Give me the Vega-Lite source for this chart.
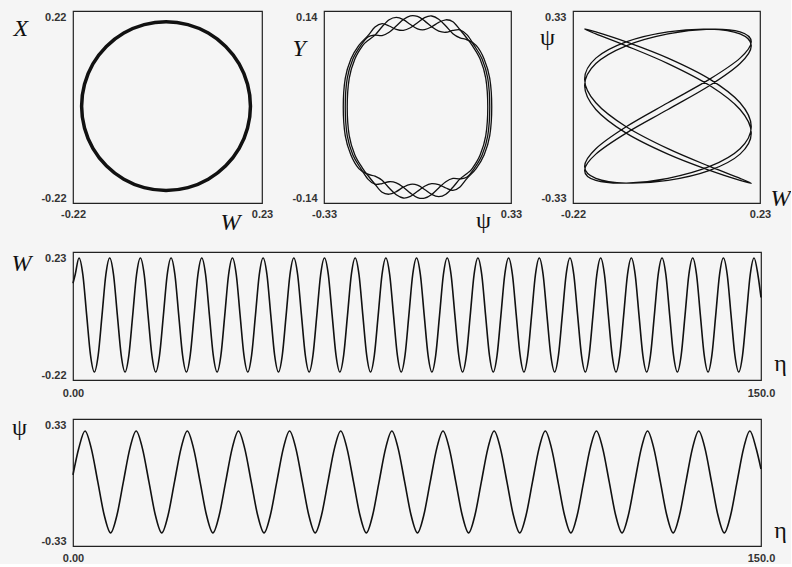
{
  "$schema": "https://vega.github.io/schema/vega-lite/v6.json",
  "background": "#f5f5f5",
  "padding": {"left": 10, "top": 10, "right": 0, "bottom": 0},
  "spacing": 15,
  "config": {
    "view": {"stroke": "#222", "strokeWidth": 1.2},
    "axis": {"grid": false, "ticks": false, "domain": false, "labelFont": "Liberation Sans", "labelFontSize": 11, "labelFontWeight": "bold", "labelColor": "#333", "titleFont": "Liberation Serif", "titleFontSize": 24, "titleFontWeight": "normal", "titleColor": "#111"}
  },
  "datasets": {
    "circ": [
      {"i":0,"w":0.2025,"x":0.002},{"i":1,"w":0.1956,"x":0.052},{"i":2,"w":0.1756,"x":0.0988},{"i":3,"w":0.1436,"x":0.1388},
      {"i":4,"w":0.102,"x":0.1696},{"i":5,"w":0.0535,"x":0.1889},{"i":6,"w":0.0015,"x":0.1955},{"i":7,"w":-0.0505,"x":0.1889},
      {"i":8,"w":-0.099,"x":0.1696},{"i":9,"w":-0.1406,"x":0.1388},{"i":10,"w":-0.1726,"x":0.0988},{"i":11,"w":-0.1926,"x":0.052},
      {"i":12,"w":-0.1995,"x":0.002},{"i":13,"w":-0.1926,"x":-0.048},{"i":14,"w":-0.1726,"x":-0.0948},{"i":15,"w":-0.1406,"x":-0.1348},
      {"i":16,"w":-0.099,"x":-0.1656},{"i":17,"w":-0.0505,"x":-0.1849},{"i":18,"w":0.0015,"x":-0.1915},{"i":19,"w":0.0535,"x":-0.1849},
      {"i":20,"w":0.102,"x":-0.1656},{"i":21,"w":0.1436,"x":-0.1348},{"i":22,"w":0.1756,"x":-0.0948},{"i":23,"w":0.1956,"x":-0.048}
    ],
    "yp": [
      {"m":0,"i":0,"p":0.207,"y":-0.0898},{"m":0,"i":1,"p":0.235,"y":-0.07},{"m":0,"i":2,"p":0.255,"y":-0.0418},{"m":0,"i":3,"p":0.262,"y":0},{"m":0,"i":4,"p":0.255,"y":0.0418},{"m":0,"i":5,"p":0.235,"y":0.07},{"m":0,"i":6,"p":0.207,"y":0.0898},
      {"m":0,"i":7,"p":0.175,"y":0.098},{"m":0,"i":8,"p":0.15,"y":0.1008},{"m":0,"i":9,"p":0.125,"y":0.1069},{"m":0,"i":10,"p":0.1,"y":0.1181},{"m":0,"i":11,"p":0.075,"y":0.1281},{"m":0,"i":12,"p":0.05,"y":0.1327},{"m":0,"i":13,"p":0.025,"y":0.1303},{"m":0,"i":14,"p":0,"y":0.123},
      {"m":0,"i":15,"p":-0.025,"y":0.1155},{"m":0,"i":16,"p":-0.05,"y":0.1117},{"m":0,"i":17,"p":-0.075,"y":0.1133},{"m":0,"i":18,"p":-0.1,"y":0.1181},{"m":0,"i":19,"p":-0.125,"y":0.1217},{"m":0,"i":20,"p":-0.15,"y":0.1166},{"m":0,"i":21,"p":-0.175,"y":0.104},
      {"m":0,"i":22,"p":-0.207,"y":0.0898},{"m":0,"i":23,"p":-0.235,"y":0.07},{"m":0,"i":24,"p":-0.255,"y":0.0418},{"m":0,"i":25,"p":-0.262,"y":0},{"m":0,"i":26,"p":-0.255,"y":-0.0418},{"m":0,"i":27,"p":-0.235,"y":-0.07},{"m":0,"i":28,"p":-0.207,"y":-0.0898},
      {"m":0,"i":29,"p":-0.175,"y":-0.098},{"m":0,"i":30,"p":-0.15,"y":-0.1008},{"m":0,"i":31,"p":-0.125,"y":-0.1069},{"m":0,"i":32,"p":-0.1,"y":-0.1181},{"m":0,"i":33,"p":-0.075,"y":-0.1281},{"m":0,"i":34,"p":-0.05,"y":-0.1327},{"m":0,"i":35,"p":-0.025,"y":-0.1303},{"m":0,"i":36,"p":0,"y":-0.123},
      {"m":0,"i":37,"p":0.025,"y":-0.1155},{"m":0,"i":38,"p":0.05,"y":-0.1117},{"m":0,"i":39,"p":0.075,"y":-0.1133},{"m":0,"i":40,"p":0.1,"y":-0.1181},{"m":0,"i":41,"p":0.125,"y":-0.1217},{"m":0,"i":42,"p":0.15,"y":-0.1166},{"m":0,"i":43,"p":0.175,"y":-0.104},
      {"m":1,"i":0,"p":0.2,"y":-0.0898},{"m":1,"i":1,"p":0.228,"y":-0.07},{"m":1,"i":2,"p":0.248,"y":-0.0418},{"m":1,"i":3,"p":0.255,"y":0},{"m":1,"i":4,"p":0.248,"y":0.0418},{"m":1,"i":5,"p":0.228,"y":0.07},{"m":1,"i":6,"p":0.2,"y":0.0898},
      {"m":1,"i":7,"p":0.175,"y":0.1051},{"m":1,"i":8,"p":0.15,"y":0.1126},{"m":1,"i":9,"p":0.125,"y":0.1116},{"m":1,"i":10,"p":0.1,"y":0.109},{"m":1,"i":11,"p":0.075,"y":0.1106},{"m":1,"i":12,"p":0.05,"y":0.1169},{"m":1,"i":13,"p":0.025,"y":0.1256},{"m":1,"i":14,"p":0,"y":0.1321},
      {"m":1,"i":15,"p":-0.025,"y":0.133},{"m":1,"i":16,"p":-0.05,"y":0.1275},{"m":1,"i":17,"p":-0.075,"y":0.118},{"m":1,"i":18,"p":-0.1,"y":0.109},{"m":1,"i":19,"p":-0.125,"y":0.1042},{"m":1,"i":20,"p":-0.15,"y":0.1048},{"m":1,"i":21,"p":-0.175,"y":0.1021},
      {"m":1,"i":22,"p":-0.2,"y":0.0898},{"m":1,"i":23,"p":-0.228,"y":0.07},{"m":1,"i":24,"p":-0.248,"y":0.0418},{"m":1,"i":25,"p":-0.255,"y":0},{"m":1,"i":26,"p":-0.248,"y":-0.0418},{"m":1,"i":27,"p":-0.228,"y":-0.07},{"m":1,"i":28,"p":-0.2,"y":-0.0898},
      {"m":1,"i":29,"p":-0.175,"y":-0.1051},{"m":1,"i":30,"p":-0.15,"y":-0.1126},{"m":1,"i":31,"p":-0.125,"y":-0.1116},{"m":1,"i":32,"p":-0.1,"y":-0.109},{"m":1,"i":33,"p":-0.075,"y":-0.1106},{"m":1,"i":34,"p":-0.05,"y":-0.1169},{"m":1,"i":35,"p":-0.025,"y":-0.1256},{"m":1,"i":36,"p":0,"y":-0.1321},
      {"m":1,"i":37,"p":0.025,"y":-0.133},{"m":1,"i":38,"p":0.05,"y":-0.1275},{"m":1,"i":39,"p":0.075,"y":-0.118},{"m":1,"i":40,"p":0.1,"y":-0.109},{"m":1,"i":41,"p":0.125,"y":-0.1042},{"m":1,"i":42,"p":0.15,"y":-0.1048},{"m":1,"i":43,"p":0.175,"y":-0.1021},
      {"m":2,"i":0,"p":0.193,"y":-0.0898},{"m":2,"i":1,"p":0.221,"y":-0.07},{"m":2,"i":2,"p":0.241,"y":-0.0418},{"m":2,"i":3,"p":0.248,"y":0},{"m":2,"i":4,"p":0.241,"y":0.0418},{"m":2,"i":5,"p":0.221,"y":0.07},{"m":2,"i":6,"p":0.193,"y":0.0898},
      {"m":2,"i":7,"p":0.175,"y":0.0999},{"m":2,"i":8,"p":0.15,"y":0.1126},{"m":2,"i":9,"p":0.125,"y":0.1244},{"m":2,"i":10,"p":0.1,"y":0.1272},{"m":2,"i":11,"p":0.075,"y":0.1234},{"m":2,"i":12,"p":0.05,"y":0.1169},{"m":2,"i":13,"p":0.025,"y":0.1128},{"m":2,"i":14,"p":0,"y":0.1139},
      {"m":2,"i":15,"p":-0.025,"y":0.1202},{"m":2,"i":16,"p":-0.05,"y":0.1275},{"m":2,"i":17,"p":-0.075,"y":0.1308},{"m":2,"i":18,"p":-0.1,"y":0.1272},{"m":2,"i":19,"p":-0.125,"y":0.117},{"m":2,"i":20,"p":-0.15,"y":0.1048},{"m":2,"i":21,"p":-0.175,"y":0.0969},
      {"m":2,"i":22,"p":-0.193,"y":0.0898},{"m":2,"i":23,"p":-0.221,"y":0.07},{"m":2,"i":24,"p":-0.241,"y":0.0418},{"m":2,"i":25,"p":-0.248,"y":0},{"m":2,"i":26,"p":-0.241,"y":-0.0418},{"m":2,"i":27,"p":-0.221,"y":-0.07},{"m":2,"i":28,"p":-0.193,"y":-0.0898},
      {"m":2,"i":29,"p":-0.175,"y":-0.0999},{"m":2,"i":30,"p":-0.15,"y":-0.1126},{"m":2,"i":31,"p":-0.125,"y":-0.1244},{"m":2,"i":32,"p":-0.1,"y":-0.1272},{"m":2,"i":33,"p":-0.075,"y":-0.1234},{"m":2,"i":34,"p":-0.05,"y":-0.1169},{"m":2,"i":35,"p":-0.025,"y":-0.1128},{"m":2,"i":36,"p":0,"y":-0.1139},
      {"m":2,"i":37,"p":0.025,"y":-0.1202},{"m":2,"i":38,"p":0.05,"y":-0.1275},{"m":2,"i":39,"p":0.075,"y":-0.1308},{"m":2,"i":40,"p":0.1,"y":-0.1272},{"m":2,"i":41,"p":0.125,"y":-0.117},{"m":2,"i":42,"p":0.15,"y":-0.1048},{"m":2,"i":43,"p":0.175,"y":-0.0969}
    ],
    "lis": [
      {"i":0,"w":-0.192,"p":0.2677},{"i":1,"w":-0.165,"p":0.2512},{"i":2,"w":-0.092,"p":0.2104},{"i":3,"w":0.0085,"p":0.1493},
      {"i":4,"w":0.109,"p":0.0738},{"i":5,"w":0.182,"p":-0.0086},{"i":6,"w":0.209,"p":-0.0898},{"i":7,"w":0.182,"p":-0.162},
      {"i":8,"w":0.109,"p":-0.218},{"i":9,"w":0.0085,"p":-0.2524},{"i":10,"w":-0.092,"p":-0.2617},{"i":11,"w":-0.165,"p":-0.2452},
      {"i":12,"w":-0.192,"p":-0.2044},{"i":13,"w":-0.165,"p":-0.1433},{"i":14,"w":-0.092,"p":-0.0678},{"i":15,"w":0.0085,"p":0.0146},
      {"i":16,"w":0.109,"p":0.0958},{"i":17,"w":0.182,"p":0.168},{"i":18,"w":0.209,"p":0.224},{"i":19,"w":0.182,"p":0.2584},
      {"i":20,"w":0.109,"p":0.2677},{"i":21,"w":0.0085,"p":0.2512},{"i":22,"w":-0.092,"p":0.2104},{"i":23,"w":-0.165,"p":0.1493},
      {"i":24,"w":-0.192,"p":0.0738},{"i":25,"w":-0.165,"p":-0.0086},{"i":26,"w":-0.092,"p":-0.0898},{"i":27,"w":0.0085,"p":-0.162},
      {"i":28,"w":0.109,"p":-0.218},{"i":29,"w":0.182,"p":-0.2524},{"i":30,"w":0.209,"p":-0.2617},{"i":31,"w":0.182,"p":-0.2452},
      {"i":32,"w":0.109,"p":-0.2044},{"i":33,"w":0.0085,"p":-0.1433},{"i":34,"w":-0.092,"p":-0.0678},{"i":35,"w":-0.165,"p":0.0146},
      {"i":36,"w":-0.192,"p":0.0958},{"i":37,"w":-0.165,"p":0.168},{"i":38,"w":-0.092,"p":0.224},{"i":39,"w":0.0085,"p":0.2584},
      {"i":40,"w":0.109,"p":0.2677},{"i":41,"w":0.182,"p":0.2512},{"i":42,"w":0.209,"p":0.2104},{"i":43,"w":0.182,"p":0.1493},
      {"i":44,"w":0.109,"p":0.0738},{"i":45,"w":0.0085,"p":-0.0086},{"i":46,"w":-0.092,"p":-0.0898},{"i":47,"w":-0.165,"p":-0.162},
      {"i":48,"w":-0.192,"p":-0.218},{"i":49,"w":-0.165,"p":-0.2524},{"i":50,"w":-0.092,"p":-0.2617},{"i":51,"w":0.0085,"p":-0.2452},
      {"i":52,"w":0.109,"p":-0.2044},{"i":53,"w":0.182,"p":-0.1433},{"i":54,"w":0.209,"p":-0.0678},{"i":55,"w":0.182,"p":0.0146},
      {"i":56,"w":0.109,"p":0.0958},{"i":57,"w":0.0085,"p":0.168},{"i":58,"w":-0.092,"p":0.224},{"i":59,"w":-0.165,"p":0.2584}
    ],
    "wt": [
      {"t":0,"w":0.12},{"t":0.47,"w":0.15},
      {"t":1.31,"w":0.209},{"t":2.15,"w":0.15},{"t":2.98,"w":0.008},{"t":3.82,"w":-0.133},{"t":4.66,"w":-0.192},{"t":5.49,"w":-0.133},{"t":6.33,"w":0.008},{"t":7.16,"w":0.15},
      {"t":8.0,"w":0.209},{"t":8.84,"w":0.15},{"t":9.67,"w":0.008},{"t":10.51,"w":-0.133},{"t":11.35,"w":-0.192},{"t":12.18,"w":-0.133},{"t":13.02,"w":0.008},{"t":13.85,"w":0.15},
      {"t":14.69,"w":0.209},{"t":15.53,"w":0.15},{"t":16.36,"w":0.008},{"t":17.2,"w":-0.133},{"t":18.04,"w":-0.192},{"t":18.87,"w":-0.133},{"t":19.71,"w":0.008},{"t":20.54,"w":0.15},
      {"t":21.38,"w":0.209},{"t":22.22,"w":0.15},{"t":23.05,"w":0.008},{"t":23.89,"w":-0.133},{"t":24.73,"w":-0.192},{"t":25.56,"w":-0.133},{"t":26.4,"w":0.008},{"t":27.23,"w":0.15},
      {"t":28.07,"w":0.209},{"t":28.91,"w":0.15},{"t":29.74,"w":0.008},{"t":30.58,"w":-0.133},{"t":31.42,"w":-0.192},{"t":32.25,"w":-0.133},{"t":33.09,"w":0.008},{"t":33.92,"w":0.15},
      {"t":34.76,"w":0.209},{"t":35.6,"w":0.15},{"t":36.43,"w":0.008},{"t":37.27,"w":-0.133},{"t":38.11,"w":-0.192},{"t":38.94,"w":-0.133},{"t":39.78,"w":0.008},{"t":40.61,"w":0.15},
      {"t":41.45,"w":0.209},{"t":42.29,"w":0.15},{"t":43.12,"w":0.008},{"t":43.96,"w":-0.133},{"t":44.8,"w":-0.192},{"t":45.63,"w":-0.133},{"t":46.47,"w":0.008},{"t":47.3,"w":0.15},
      {"t":48.14,"w":0.209},{"t":48.98,"w":0.15},{"t":49.81,"w":0.008},{"t":50.65,"w":-0.133},{"t":51.49,"w":-0.192},{"t":52.32,"w":-0.133},{"t":53.16,"w":0.008},{"t":53.99,"w":0.15},
      {"t":54.83,"w":0.209},{"t":55.67,"w":0.15},{"t":56.5,"w":0.008},{"t":57.34,"w":-0.133},{"t":58.18,"w":-0.192},{"t":59.01,"w":-0.133},{"t":59.85,"w":0.008},{"t":60.68,"w":0.15},
      {"t":61.52,"w":0.209},{"t":62.36,"w":0.15},{"t":63.19,"w":0.008},{"t":64.03,"w":-0.133},{"t":64.87,"w":-0.192},{"t":65.7,"w":-0.133},{"t":66.54,"w":0.008},{"t":67.37,"w":0.15},
      {"t":68.21,"w":0.209},{"t":69.05,"w":0.15},{"t":69.88,"w":0.008},{"t":70.72,"w":-0.133},{"t":71.56,"w":-0.192},{"t":72.39,"w":-0.133},{"t":73.23,"w":0.008},{"t":74.06,"w":0.15},
      {"t":74.9,"w":0.209},{"t":75.74,"w":0.15},{"t":76.57,"w":0.008},{"t":77.41,"w":-0.133},{"t":78.25,"w":-0.192},{"t":79.08,"w":-0.133},{"t":79.92,"w":0.008},{"t":80.75,"w":0.15},
      {"t":81.59,"w":0.209},{"t":82.43,"w":0.15},{"t":83.26,"w":0.008},{"t":84.1,"w":-0.133},{"t":84.94,"w":-0.192},{"t":85.77,"w":-0.133},{"t":86.61,"w":0.008},{"t":87.44,"w":0.15},
      {"t":88.28,"w":0.209},{"t":89.12,"w":0.15},{"t":89.95,"w":0.008},{"t":90.79,"w":-0.133},{"t":91.63,"w":-0.192},{"t":92.46,"w":-0.133},{"t":93.3,"w":0.008},{"t":94.13,"w":0.15},
      {"t":94.97,"w":0.209},{"t":95.81,"w":0.15},{"t":96.64,"w":0.008},{"t":97.48,"w":-0.133},{"t":98.32,"w":-0.192},{"t":99.15,"w":-0.133},{"t":99.99,"w":0.008},{"t":100.82,"w":0.15},
      {"t":101.66,"w":0.209},{"t":102.5,"w":0.15},{"t":103.33,"w":0.008},{"t":104.17,"w":-0.133},{"t":105.01,"w":-0.192},{"t":105.84,"w":-0.133},{"t":106.68,"w":0.008},{"t":107.51,"w":0.15},
      {"t":108.35,"w":0.209},{"t":109.19,"w":0.15},{"t":110.02,"w":0.008},{"t":110.86,"w":-0.133},{"t":111.7,"w":-0.192},{"t":112.53,"w":-0.133},{"t":113.37,"w":0.008},{"t":114.2,"w":0.15},
      {"t":115.04,"w":0.209},{"t":115.88,"w":0.15},{"t":116.71,"w":0.008},{"t":117.55,"w":-0.133},{"t":118.39,"w":-0.192},{"t":119.22,"w":-0.133},{"t":120.06,"w":0.008},{"t":120.89,"w":0.15},
      {"t":121.73,"w":0.209},{"t":122.57,"w":0.15},{"t":123.4,"w":0.008},{"t":124.24,"w":-0.133},{"t":125.08,"w":-0.192},{"t":125.91,"w":-0.133},{"t":126.75,"w":0.008},{"t":127.58,"w":0.15},
      {"t":128.42,"w":0.209},{"t":129.26,"w":0.15},{"t":130.09,"w":0.008},{"t":130.93,"w":-0.133},{"t":131.77,"w":-0.192},{"t":132.6,"w":-0.133},{"t":133.44,"w":0.008},{"t":134.27,"w":0.15},
      {"t":135.11,"w":0.209},{"t":135.95,"w":0.15},{"t":136.78,"w":0.008},{"t":137.62,"w":-0.133},{"t":138.46,"w":-0.192},{"t":139.29,"w":-0.133},{"t":140.13,"w":0.008},{"t":140.96,"w":0.15},
      {"t":141.8,"w":0.209},{"t":142.64,"w":0.15},{"t":143.47,"w":0.008},{"t":144.31,"w":-0.133},{"t":145.15,"w":-0.192},{"t":145.98,"w":-0.133},{"t":146.82,"w":0.008},{"t":147.65,"w":0.15},
      {"t":148.49,"w":0.209},{"t":149.33,"w":0.15},{"t":150,"w":0.07}
    ],
    "pt": [
      {"t":0,"p":0.04},{"t":1.23,"p":0.175},
      {"t":2.62,"p":0.268},{"t":4.01,"p":0.175},{"t":5.41,"p":0.003},{"t":6.8,"p":-0.169},{"t":8.2,"p":-0.262},{"t":9.59,"p":-0.169},{"t":10.98,"p":0.003},{"t":12.38,"p":0.175},
      {"t":13.77,"p":0.268},{"t":15.16,"p":0.175},{"t":16.56,"p":0.003},{"t":17.95,"p":-0.169},{"t":19.35,"p":-0.262},{"t":20.74,"p":-0.169},{"t":22.13,"p":0.003},{"t":23.53,"p":0.175},
      {"t":24.92,"p":0.268},{"t":26.31,"p":0.175},{"t":27.71,"p":0.003},{"t":29.1,"p":-0.169},{"t":30.5,"p":-0.262},{"t":31.89,"p":-0.169},{"t":33.28,"p":0.003},{"t":34.68,"p":0.175},
      {"t":36.07,"p":0.268},{"t":37.46,"p":0.175},{"t":38.86,"p":0.003},{"t":40.25,"p":-0.169},{"t":41.65,"p":-0.262},{"t":43.04,"p":-0.169},{"t":44.43,"p":0.003},{"t":45.83,"p":0.175},
      {"t":47.22,"p":0.268},{"t":48.61,"p":0.175},{"t":50.01,"p":0.003},{"t":51.4,"p":-0.169},{"t":52.8,"p":-0.262},{"t":54.19,"p":-0.169},{"t":55.58,"p":0.003},{"t":56.98,"p":0.175},
      {"t":58.37,"p":0.268},{"t":59.76,"p":0.175},{"t":61.16,"p":0.003},{"t":62.55,"p":-0.169},{"t":63.95,"p":-0.262},{"t":65.34,"p":-0.169},{"t":66.73,"p":0.003},{"t":68.13,"p":0.175},
      {"t":69.52,"p":0.268},{"t":70.91,"p":0.175},{"t":72.31,"p":0.003},{"t":73.7,"p":-0.169},{"t":75.1,"p":-0.262},{"t":76.49,"p":-0.169},{"t":77.88,"p":0.003},{"t":79.28,"p":0.175},
      {"t":80.67,"p":0.268},{"t":82.06,"p":0.175},{"t":83.46,"p":0.003},{"t":84.85,"p":-0.169},{"t":86.25,"p":-0.262},{"t":87.64,"p":-0.169},{"t":89.03,"p":0.003},{"t":90.43,"p":0.175},
      {"t":91.82,"p":0.268},{"t":93.21,"p":0.175},{"t":94.61,"p":0.003},{"t":96.0,"p":-0.169},{"t":97.4,"p":-0.262},{"t":98.79,"p":-0.169},{"t":100.18,"p":0.003},{"t":101.58,"p":0.175},
      {"t":102.97,"p":0.268},{"t":104.36,"p":0.175},{"t":105.76,"p":0.003},{"t":107.15,"p":-0.169},{"t":108.55,"p":-0.262},{"t":109.94,"p":-0.169},{"t":111.33,"p":0.003},{"t":112.73,"p":0.175},
      {"t":114.12,"p":0.268},{"t":115.51,"p":0.175},{"t":116.91,"p":0.003},{"t":118.3,"p":-0.169},{"t":119.7,"p":-0.262},{"t":121.09,"p":-0.169},{"t":122.48,"p":0.003},{"t":123.88,"p":0.175},
      {"t":125.27,"p":0.268},{"t":126.66,"p":0.175},{"t":128.06,"p":0.003},{"t":129.45,"p":-0.169},{"t":130.85,"p":-0.262},{"t":132.24,"p":-0.169},{"t":133.63,"p":0.003},{"t":135.03,"p":0.175},
      {"t":136.42,"p":0.268},{"t":137.81,"p":0.175},{"t":139.21,"p":0.003},{"t":140.6,"p":-0.169},{"t":142.0,"p":-0.262},{"t":143.39,"p":-0.169},{"t":144.78,"p":0.003},{"t":146.18,"p":0.175},
      {"t":147.57,"p":0.268},{"t":148.96,"p":0.175},{"t":150,"p":0.07}
    ]
  },
  "vconcat": [
    {
      "bounds": "flush",
      "spacing": 62,
      "hconcat": [
        {
          "width": 189, "height": 192,
          "data": {"name": "circ"},
          "mark": {"type": "line", "interpolate": "cardinal-closed", "strokeWidth": 3.5, "color": "#111"},
          "encoding": {
            "x": {"field": "w", "type": "quantitative", "scale": {"domain": [-0.22, 0.23], "nice": false, "zero": false},
              "axis": {"values": [-0.22, 0.23], "format": ".2f", "labelExpr": "replace(datum.label, '\u2212', '-')", "labelFlush": false, "labelPadding": 5, "title": "W", "titleFontStyle": "italic", "titleX": 157, "titleY": 26, "titleAlign": "center", "titleBaseline": "alphabetic", "titleAngle": 0}},
            "y": {"field": "x", "type": "quantitative", "scale": {"domain": [-0.22, 0.22], "nice": false, "zero": false},
              "axis": {"values": [-0.22, 0.22], "format": ".2f", "labelExpr": "replace(datum.label, '\u2212', '-')", "labelFlush": true, "labelPadding": 7, "title": "X", "titleFontStyle": "italic", "titleAngle": 0, "titleX": -60, "titleY": 24, "titleAlign": "left", "titleBaseline": "alphabetic"}},
            "order": {"field": "i", "type": "quantitative"}
          }
        },
        {
          "width": 187, "height": 192,
          "data": {"name": "yp"},
          "mark": {"type": "line", "interpolate": "cardinal-closed", "strokeWidth": 1.3, "color": "#111"},
          "encoding": {
            "x": {"field": "p", "type": "quantitative", "scale": {"domain": [-0.33, 0.33], "nice": false, "zero": false},
              "axis": {"values": [-0.33, 0.33], "format": ".2f", "labelExpr": "replace(datum.label, '\u2212', '-')", "labelFlush": false, "labelPadding": 5, "title": "ψ", "titleX": 159, "titleY": 24, "titleAlign": "center", "titleBaseline": "alphabetic", "titleAngle": 0}},
            "y": {"field": "y", "type": "quantitative", "scale": {"domain": [-0.14, 0.14], "nice": false, "zero": false},
              "axis": {"values": [-0.14, 0.14], "format": ".2f", "labelExpr": "replace(datum.label, '\u2212', '-')", "labelFlush": true, "labelPadding": 7, "title": "Y", "titleFontStyle": "italic", "titleAngle": 0, "titleX": -32, "titleY": 44, "titleAlign": "left", "titleBaseline": "alphabetic"}},
            "detail": {"field": "m", "type": "nominal"},
            "order": {"field": "i", "type": "quantitative"}
          }
        },
        {
          "width": 187, "height": 192,
          "data": {"name": "lis"},
          "mark": {"type": "line", "interpolate": "cardinal-closed", "strokeWidth": 1.3, "color": "#111"},
          "encoding": {
            "x": {"field": "w", "type": "quantitative", "scale": {"domain": [-0.22, 0.23], "nice": false, "zero": false},
              "axis": {"values": [-0.22, 0.23], "format": ".2f", "labelExpr": "replace(datum.label, '\u2212', '-')", "labelFlush": false, "labelPadding": 5, "title": "W", "titleFontStyle": "italic", "titleX": 207, "titleY": 2, "titleAlign": "center", "titleBaseline": "alphabetic", "titleAngle": 0}},
            "y": {"field": "p", "type": "quantitative", "scale": {"domain": [-0.33, 0.33], "nice": false, "zero": false},
              "axis": {"values": [-0.33, 0.33], "format": ".2f", "labelExpr": "replace(datum.label, '\u2212', '-')", "labelFlush": true, "labelPadding": 7, "title": "ψ", "titleAngle": 0, "titleX": -26, "titleY": 33, "titleAlign": "center", "titleBaseline": "alphabetic"}},
            "order": {"field": "i", "type": "quantitative"}
          }
        }
      ]
    },
    {
      "width": 688, "height": 128,
      "data": {"name": "wt"},
      "mark": {"type": "line", "interpolate": "monotone", "strokeWidth": 1.6, "color": "#111"},
      "encoding": {
        "x": {"field": "t", "type": "quantitative", "scale": {"domain": [0, 150], "nice": false, "zero": false},
          "axis": {"values": [0, 150], "labelExpr": "datum.value == 0 ? '0.00' : '150.0'", "labelFlush": false, "labelPadding": 7, "title": "η", "titleX": 707, "titleY": -10, "titleAlign": "center", "titleBaseline": "alphabetic", "titleAngle": 0}},
        "y": {"field": "w", "type": "quantitative", "scale": {"domain": [-0.22, 0.23], "nice": false, "zero": false},
          "axis": {"values": [-0.22, 0.23], "format": ".2f", "labelExpr": "replace(datum.label, '\u2212', '-')", "labelFlush": true, "labelPadding": 7, "title": "W", "titleFontStyle": "italic", "titleAngle": 0, "titleX": -62, "titleY": 18, "titleAlign": "left", "titleBaseline": "alphabetic"}}
      }
    },
    {
      "width": 688, "height": 127,
      "data": {"name": "pt"},
      "mark": {"type": "line", "interpolate": "monotone", "strokeWidth": 1.6, "color": "#111"},
      "encoding": {
        "x": {"field": "t", "type": "quantitative", "scale": {"domain": [0, 150], "nice": false, "zero": false},
          "axis": {"values": [0, 150], "labelExpr": "datum.value == 0 ? '0.00' : '150.0'", "labelFlush": false, "labelPadding": 6, "title": "η", "titleX": 707, "titleY": -9, "titleAlign": "center", "titleBaseline": "alphabetic", "titleAngle": 0}},
        "y": {"field": "p", "type": "quantitative", "scale": {"domain": [-0.33, 0.33], "nice": false, "zero": false},
          "axis": {"values": [-0.33, 0.33], "format": ".2f", "labelExpr": "replace(datum.label, '\u2212', '-')", "labelFlush": true, "labelPadding": 7, "title": "ψ", "titleAngle": 0, "titleX": -54, "titleY": 15, "titleAlign": "center", "titleBaseline": "alphabetic"}}
      }
    }
  ]
}
